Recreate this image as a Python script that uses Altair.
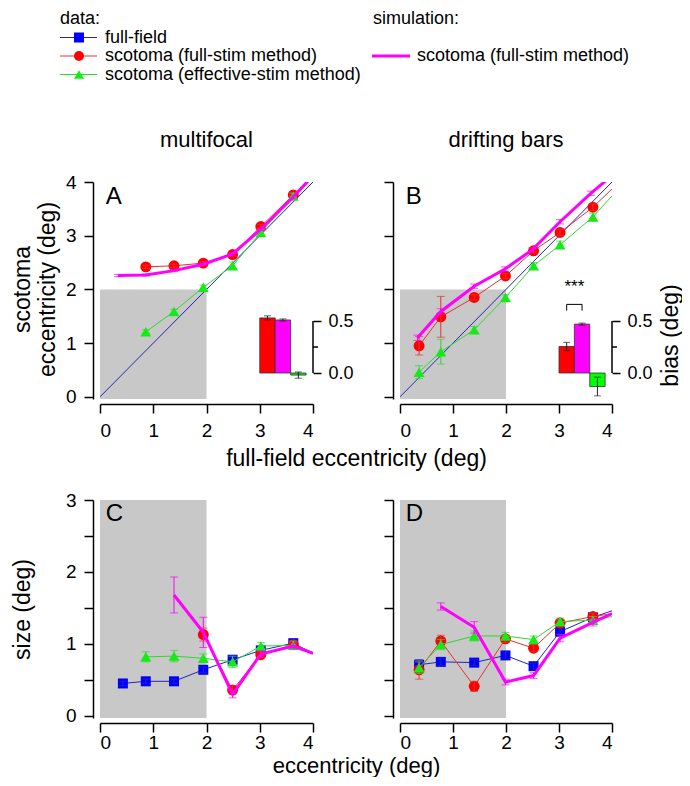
import altair as alt
import pandas as pd

FONT = "Liberation Sans"

# ---------------- data ----------------
# upper panels: x = full-field eccentricity (deg), y = scotoma eccentricity (deg)
A_x       = [0.86, 1.39, 1.94, 2.49, 3.02, 3.63, 4.00]
A_red     = [2.42, 2.44, 2.49, 2.65, 3.17, 3.76, 4.12]
A_red_e   = [0.03, 0.03, 0.03, 0.03, 0.04, 0.04, 0.0]
A_green   = [1.21, 1.59, 2.04, 2.44, 3.06, 3.74, 4.10]
A_green_e = [0.04, 0.04, 0.04, 0.07, 0.05, 0.05, 0.0]
A_sim_x   = [0.34, 0.86, 1.39, 1.94, 2.49, 3.02, 3.63, 4.00]
A_sim     = [2.26, 2.27, 2.35, 2.47, 2.66, 3.12, 3.72, 4.12]
A_sim_e   = [0.02, 0.02, 0.02, 0.02, 0.02, 0.02, 0.03, 0.0]
A_bias    = [0.53, 0.51, -0.02]
A_bias_e  = [0.02, 0.01, 0.03]

B_x       = [0.36, 0.77, 1.40, 1.99, 2.52, 3.02, 3.64, 4.00]
B_red     = [0.95, 1.49, 1.85, 2.25, 2.72, 3.06, 3.53, 3.87]
B_red_e   = [0.17, 0.38, 0.05, 0.05, 0.04, 0.06, 0.06, 0.0]
B_green   = [0.46, 0.84, 1.25, 1.85, 2.44, 2.83, 3.35, 3.74]
B_green_e = [0.12, 0.23, 0.06, 0.05, 0.06, 0.07, 0.07, 0.0]
B_sim_x   = [0.33, 0.77, 1.40, 1.98, 2.50, 3.02, 3.60, 4.00]
B_sim     = [1.10, 1.59, 2.06, 2.38, 2.74, 3.26, 3.79, 4.12]
B_sim_e   = [0.05, 0.05, 0.04, 0.04, 0.04, 0.04, 0.04, 0.0]
B_bias    = [0.255, 0.47, -0.13]
B_bias_e  = [0.04, 0.01, 0.09]

diag_x = [0.0, 4.2]

# lower panels: x = eccentricity (deg), y = size (deg)
C_blue_x  = [0.43, 0.86, 1.39, 1.94, 2.49, 3.02, 3.63, 4.00]
C_blue    = [0.45, 0.48, 0.48, 0.64, 0.78, 0.91, 1.01, 0.87]
C_blue_e  = [0.03, 0.03, 0.03, 0.04, 0.04, 0.03, 0.04, 0.0]
C_x       = [0.86, 1.39, 1.94, 2.49, 3.02, 3.63, 4.00]
C_green   = [0.82, 0.83, 0.80, 0.75, 0.97, 0.98, 0.87]
C_green_e = [0.07, 0.08, 0.06, 0.08, 0.05, 0.06, 0.0]
C_red_x   = [1.94, 2.49, 3.02, 3.63, 4.00]
C_red     = [1.13, 0.36, 0.85, 0.99, 0.88]
C_red_e   = [0.09, 0.06, 0.04, 0.04, 0.0]
C_sim_x   = [1.39, 1.94, 2.49, 3.02, 3.63, 4.00]
C_sim     = [1.68, 1.16, 0.30, 0.86, 0.97, 0.87]
C_sim_e   = [0.25, 0.21, 0.05, 0.04, 0.04, 0.0]

D_x       = [0.36, 0.77, 1.40, 1.99, 2.52, 3.02, 3.64, 4.00]
D_blue    = [0.71, 0.75, 0.74, 0.84, 0.69, 1.17, 1.37, 1.46]
D_blue_e  = [0.07, 0.05, 0.04, 0.05, 0.04, 0.05, 0.04, 0.0]
D_red     = [0.64, 1.04, 0.41, 1.07, 0.94, 1.29, 1.38, 1.42]
D_red_e   = [0.13, 0.08, 0.07, 0.05, 0.05, 0.05, 0.05, 0.0]
D_green   = [0.67, 0.99, 1.11, 1.11, 1.06, 1.31, 1.33, 1.38]
D_green_e = [0.08, 0.07, 0.07, 0.05, 0.05, 0.05, 0.05, 0.0]
D_sim_x   = [0.77, 1.40, 1.99, 2.52, 3.02, 3.64, 4.00]
D_sim     = [1.52, 1.23, 0.47, 0.56, 1.08, 1.30, 1.42]
D_sim_e   = [0.05, 0.08, 0.04, 0.04, 0.05, 0.05, 0.0]

# shaded scotoma region and inset bars
shade_x = [0.0, 2.0]
top_shade_y = [-0.04, 2.0]
bot_shade_y = [-0.03, 3.0]
bar_x0 = [3.00, 3.29, 3.58]
bar_x1 = [3.29, 3.58, 3.87]
bar_colors = ["#ff0000", "#ff00ff", "#00ff00"]
bias_ticks = [0.0, 0.5]
sig_x = [3.145, 3.145, 3.435, 3.435]
sig_y = [0.60, 0.66, 0.66, 0.60]
sig_text_xy = [3.29, 0.83]

leg_labels = ["full-field", "scotoma (full-stim method)", "scotoma (effective-stim method)"]
sim_labels = ["scotoma (full-stim method)"]

# ---------------- styles ----------------
BLUE_L, BLUE_M = "#2424b4", "#0000ff"
RED_L, RED_M = "#e83030", "#ff0000"
GREEN_L, GREEN_M = "#30d830", "#11ee11"
MAG = "#ff00ff"
GRAY = "#c8c8c8"
TFS = 23   # axis title font size
LFS = 19   # tick label font size


def mk_df(x, y, e):
    n = len(x)
    df = pd.DataFrame({"x": x, "y": y, "e": e})
    df["lo"] = df["y"] - df["e"]
    df["hi"] = df["y"] + df["e"]
    df["i"] = range(n)
    df["mk"] = [1] * (n - 1) + [0]
    return df


def series_layers(df, lc, mc, shape, size, lw, X, Y, markers=True, ec=None):
    ec = ec or lc
    base = alt.Chart(df)
    layers = [base.mark_line(color=lc, strokeWidth=lw, clip=True).encode(
        x=X("x"), y=Y("y"), order="i:Q")]
    if markers:
        layers.append(base.transform_filter("datum.mk == 1").mark_point(
            shape=shape, filled=True, size=size, color=mc, opacity=1, clip=True
        ).encode(x=X("x"), y=Y("y")))
    err = base.transform_filter("datum.e > 0")
    layers.append(err.mark_rule(color=ec, strokeWidth=1, clip=True).encode(
        x=X("x"), y=Y("lo"), y2=alt.Y2("hi")))
    for f in ["lo", "hi"]:
        layers.append(err.mark_tick(orient="horizontal", size=8, thickness=1,
                                    color=ec, clip=True).encode(x=X("x"), y=Y(f)))
    return layers


def legend_group():
    leg_df = pd.DataFrame({"row": [1, 2, 3], "label": leg_labels,
                           "lc": [BLUE_L, RED_L, GREEN_L], "mc": [BLUE_M, RED_M, GREEN_M],
                           "shape": ["square", "circle", "triangle-up"]})
    sim_df = pd.DataFrame({"row": [2], "label": sim_labels})
    hdr_df = pd.DataFrame({"row": [0, 0], "label": ["data:", "simulation:"], "col": [0, 1]})
    LY = alt.Scale(domain=[0, 3], range=[-163, -107.5])

    def ly(f):
        return alt.Y(f"{f}:Q", scale=LY, axis=None)

    return alt.layer(
        alt.Chart(leg_df).mark_rule(strokeWidth=1).encode(
            x=alt.value(-40), x2=alt.value(-3), y=ly("row"), color=alt.Color("lc:N", scale=None)),
        alt.Chart(leg_df).mark_point(filled=True, size=100, opacity=1).encode(
            x=alt.value(-21), y=ly("row"), color=alt.Color("mc:N", scale=None),
            shape=alt.Shape("shape:N", scale=None)),
        alt.Chart(leg_df).mark_text(align="left", baseline="middle", fontSize=18).encode(
            x=alt.value(5), y=ly("row"), text="label:N"),
        alt.Chart(sim_df).mark_rule(strokeWidth=3, color=MAG).encode(
            x=alt.value(272), x2=alt.value(310), y=ly("row")),
        alt.Chart(sim_df).mark_text(align="left", baseline="middle", fontSize=18).encode(
            x=alt.value(317), y=ly("row"), text="label:N"),
        alt.Chart(hdr_df).transform_filter("datum.col == 0").mark_text(
            align="left", baseline="middle", fontSize=18).encode(
            x=alt.value(-40), y=ly("row"), text="label:N"),
        alt.Chart(hdr_df).transform_filter("datum.col == 1").mark_text(
            align="left", baseline="middle", fontSize=18).encode(
            x=alt.value(273), y=ly("row"), text="label:N"),
    )


def make_panel(top, letter, series, width, bias=None, bias_e=None, sig=False,
               ylabels=True, ytitle=None, ytitle_x=0, ytitle_y=0,
               xtitle=None, xtitle_x=0, xtitle_y=0, bias_title=None, coltitle=None,
               with_legend=False):
    height = 217 if top else 218
    ydom = [-0.04, 4] if top else [-0.03, 3]
    xs = alt.Scale(domain=[0, 4], nice=False, zero=False)
    ys = alt.Scale(domain=ydom, nice=False, zero=False)
    xaxis_kw = dict(values=[0, 1, 2, 3, 4], offset=5, grid=False,
                    labelPadding=8 if top else 1)
    if xtitle:
        xaxis_kw.update(title=xtitle, titleX=xtitle_x, titleY=xtitle_y,
                        titleAlign="center", titleBaseline="middle",
                        titleFontSize=TFS if top else 22)
    else:
        xaxis_kw.update(title=None)
    xaxis = alt.Axis(**xaxis_kw)
    if top:
        yvals = [0, 1, 2, 3, 4]
    else:
        yvals = [0, 0.5, 1, 1.5, 2, 2.5, 3]
    yaxis_kw = dict(values=yvals, offset=7, grid=False, orient="left")
    if ylabels:
        if not top:
            yaxis_kw.update(labelExpr="datum.value % 1 == 0 ? '' + datum.value : ''")
    else:
        yaxis_kw.update(labels=False)
    if ytitle:
        yaxis_kw.update(title=ytitle, titleX=ytitle_x, titleY=ytitle_y, titleAngle=270,
                        titleAlign="center", titleBaseline="middle", titleLineHeight=25)
    else:
        yaxis_kw.update(title=None)
    yaxis = alt.Axis(**yaxis_kw)

    def X(f):
        return alt.X(f"{f}:Q", scale=xs, axis=xaxis)

    def Y(f):
        return alt.Y(f"{f}:Q", scale=ys, axis=yaxis)

    shade_y = top_shade_y if top else bot_shade_y
    shade_df = pd.DataFrame({"x0": [shade_x[0]], "x1": [shade_x[1]],
                             "y0": [shade_y[0]], "y1": [shade_y[1]]})
    layers = [alt.Chart(shade_df).mark_rect(color=GRAY).encode(
        x=X("x0"), x2=alt.X2("x1"), y=Y("y0"), y2=alt.Y2("y1"))]
    if top:
        ddf = pd.DataFrame({"x": diag_x, "y": diag_x})
        layers.append(alt.Chart(ddf).mark_line(color=BLUE_L, strokeWidth=1, clip=True).encode(
            x=X("x"), y=Y("y")))
    for s in series:
        layers += series_layers(s["df"], s["lc"], s["mc"], s["shape"], s["size"], s["lw"],
                                X, Y, markers=s["markers"])
    ldf = pd.DataFrame({"x": [0.11], "y": [3.73 if top else 2.8], "t": [letter]})
    layers.append(alt.Chart(ldf).mark_text(align="left", baseline="middle", fontSize=24,
                                           color="black").encode(
        x=X("x"), y=Y("y"), text="t:N"))
    if coltitle:
        tdf = pd.DataFrame({"t": [coltitle]})
        layers.append(alt.Chart(tdf).mark_text(align="center", baseline="middle",
                                               fontSize=22).encode(
            x=alt.value(width / 2), y=alt.value(-42), text="t:N"))
    main = alt.layer(*layers)

    groups = [main]
    if bias is not None:
        bs = alt.Scale(domain=[-0.25, 1.837], nice=False, zero=False)
        baxis_kw = dict(values=bias_ticks, orient="right", format=".1f", domain=False,
                        tickSize=8, labelPadding=7, grid=False, labelFontSize=18)
        if bias_title:
            baxis_kw.update(title=bias_title, titleX=58, titleY=153, titleAngle=270,
                            titleAlign="center", titleBaseline="middle")
        else:
            baxis_kw.update(title=None)
        baxis = alt.Axis(**baxis_kw)

        def YB(f):
            return alt.Y(f"{f}:Q", scale=bs, axis=baxis)

        bdf = pd.DataFrame({"x0": bar_x0, "x1": bar_x1, "v": bias, "e": bias_e,
                            "c": bar_colors})
        bdf["zero"] = 0.0
        bdf["xc"] = (bdf["x0"] + bdf["x1"]) / 2
        bdf["lo"] = bdf["v"] - bdf["e"]
        bdf["hi"] = bdf["v"] + bdf["e"]
        bb = alt.Chart(bdf)
        blayers = [
            bb.mark_rect(stroke="#333333", strokeWidth=0.8).encode(
                x=X("x0"), x2=alt.X2("x1"), y=YB("zero"), y2=alt.Y2("v"),
                color=alt.Color("c:N", scale=None)),
            bb.mark_rule(color="#222222", strokeWidth=1).encode(
                x=X("xc"), y=YB("lo"), y2=alt.Y2("hi")),
            bb.mark_tick(orient="horizontal", size=7, thickness=1, color="#222222").encode(
                x=X("xc"), y=YB("lo")),
            bb.mark_tick(orient="horizontal", size=7, thickness=1, color="#222222").encode(
                x=X("xc"), y=YB("hi")),
        ]
        adf = pd.DataFrame({"lo": [bias_ticks[0]], "hi": [bias_ticks[1]],
                            "mid": [(bias_ticks[0] + bias_ticks[1]) / 2]})
        blayers.append(alt.Chart(adf).mark_rule(color="black", strokeWidth=1.5).encode(
            x=alt.value(width), y=YB("lo"), y2=alt.Y2("hi")))
        blayers.append(alt.Chart(adf).mark_rule(color="black", strokeWidth=1.5).encode(
            x=alt.value(width), x2=alt.value(width + 5), y=YB("mid")))
        if sig:
            sdf = pd.DataFrame({"x": sig_x, "y": sig_y, "i": range(4)})
            blayers.append(alt.Chart(sdf).mark_line(color="black", strokeWidth=1).encode(
                x=X("x"), y=YB("y"), order="i:Q"))
            tdf = pd.DataFrame({"x": [sig_text_xy[0]], "y": [sig_text_xy[1]], "t": ["***"]})
            blayers.append(alt.Chart(tdf).mark_text(fontSize=17, baseline="middle",
                                                    color="black").encode(
                x=X("x"), y=YB("y"), text="t:N"))
        groups.append(alt.layer(*blayers))
    if with_legend:
        groups.append(legend_group())
    if len(groups) > 1:
        chart = alt.layer(*groups).resolve_scale(y="independent")
    else:
        chart = main
    return chart.properties(width=width, height=height)


def S(x, y, e, kind):
    style = {
        "blue": dict(lc=BLUE_L, mc=BLUE_M, shape="square", size=100, lw=1, markers=True),
        "red": dict(lc=RED_L, mc=RED_M, shape="circle", size=120, lw=1, markers=True),
        "green": dict(lc=GREEN_L, mc=GREEN_M, shape="triangle-up", size=120, lw=1, markers=True),
        "sim": dict(lc=MAG, mc=MAG, shape="circle", size=10, lw=3, markers=False),
    }[kind]
    return dict(df=mk_df(x, y, e), **style)


panelA = make_panel(True, "A", [S(A_x, A_red, A_red_e, "red"),
                                S(A_x, A_green, A_green_e, "green"),
                                S(A_sim_x, A_sim, A_sim_e, "sim")],
                    213, bias=A_bias, bias_e=A_bias_e,
                    ytitle=["scotoma", "eccentricity (deg)"], ytitle_x=-71, ytitle_y=107,
                    xtitle="full-field eccentricity (deg)", xtitle_x=256, xtitle_y=54,
                    coltitle="multifocal", with_legend=True)
panelB = make_panel(True, "B", [S(B_x, B_red, B_red_e, "red"),
                                S(B_x, B_green, B_green_e, "green"),
                                S(B_sim_x, B_sim, B_sim_e, "sim")],
                    212, bias=B_bias, bias_e=B_bias_e, sig=True, ylabels=False,
                    bias_title="bias (deg)", coltitle="drifting bars")
panelC = make_panel(False, "C", [S(C_blue_x, C_blue, C_blue_e, "blue"),
                                 S(C_red_x, C_red, C_red_e, "red"),
                                 S(C_x, C_green, C_green_e, "green"),
                                 S(C_sim_x, C_sim, C_sim_e, "sim")],
                    213, ytitle="size (deg)", ytitle_x=-71, ytitle_y=109,
                    xtitle="eccentricity (deg)", xtitle_x=256, xtitle_y=42)
panelD = make_panel(False, "D", [S(D_x, D_blue, D_blue_e, "blue"),
                                 S(D_x, D_red, D_red_e, "red"),
                                 S(D_x, D_green, D_green_e, "green"),
                                 S(D_sim_x, D_sim, D_sim_e, "sim")],
                    212, ylabels=False)

chart = alt.concat(panelA, panelB, panelC, panelD, columns=2,
                   spacing={"row": 101, "column": 87}, bounds="flush").properties(
    padding={"left": 3, "top": 2, "right": 0, "bottom": 1}
).configure(font=FONT).configure_view(stroke=None).configure_axis(
    domainColor="black", domainWidth=1.5, tickColor="black", tickWidth=1.5, tickSize=9,
    labelFontSize=LFS, labelColor="black", labelFont=FONT, labelPadding=8,
    titleFontSize=TFS, titleFontWeight="normal", titleColor="black", titleFont=FONT
).configure_text(font=FONT, color="black")

chart.save("out.html", embed_options={"renderer": "svg", "actions": False})
